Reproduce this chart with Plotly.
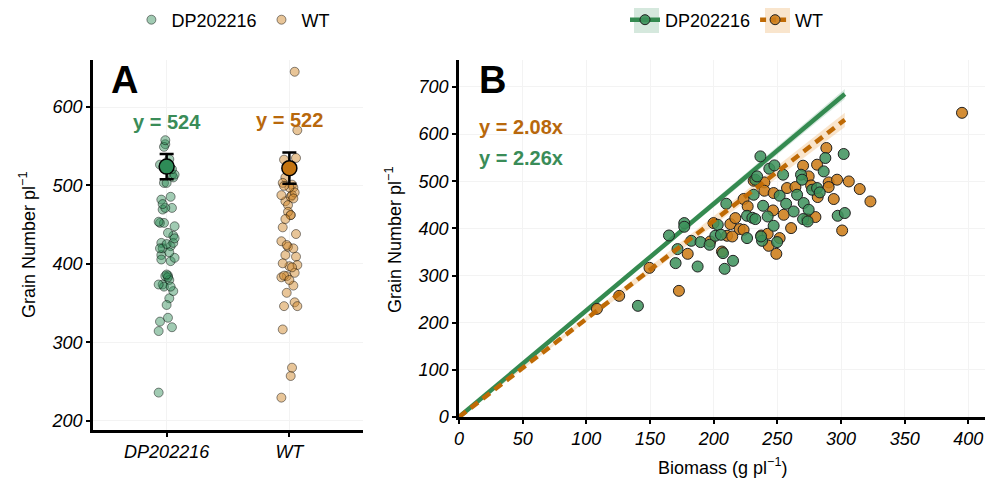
import plotly.graph_objects as go

# ---------------- data ----------------
genotypes = ["DP202216", "WT"]

dp_biomass = [140.5, 164.9, 170.1, 171.6, 176.9, 176.9, 182.4, 187.4, 189.7, 196.8,
              201.3, 203.2, 207.3, 208.6, 215.2, 209.9, 226.2, 226.2, 230.4, 232.7,
              231.4, 232.7, 234.1, 236.7, 238.8, 242.4, 238.0, 237.2, 243.7, 247.7,
              247.1, 249.8, 251.8, 254.5, 256.9, 262.8, 265.5, 268.6, 269.4, 270.7,
              274.6, 270.2, 273.8, 277.3, 281.2, 283.3, 286.4, 287.7, 297.4, 302.1,
              303.0, 205.7]
dp_grain = [235.7, 384.9, 326.3, 356.0, 411.2, 403.4, 373.6, 319.1, 370.9, 365.2,
            384.3, 407.6, 347.5, 314.2, 331.2, 452.2, 379.4, 426.7, 422.5, 419.7,
            471.3, 503.2, 510.2, 552.6, 447.9, 425.2, 373.6, 382.8, 526.5, 533.5,
            405.5, 370.9, 469.2, 513.8, 452.2, 435.8, 471.3, 513.8, 503.2, 453.7,
            439.5, 419.7, 414.6, 481.9, 485.5, 476.2, 520.8, 549.2, 426.7, 557.7,
            432.5, 386.4]

wt_biomass = [108.3, 125.8, 149.6, 172.7, 179.6, 197.3, 199.9, 206.5, 210.5, 213.1,
              217.0, 220.4, 223.5, 214.6, 223.5, 226.7, 231.4, 237.4, 239.8, 239.8,
              242.4, 243.2, 246.6, 247.1, 249.2, 251.8, 255.0, 257.6, 260.8, 264.2,
              270.2, 273.4, 274.6, 276.5, 279.9, 281.2, 281.7, 288.5, 290.3, 290.3,
              294.3, 296.9, 300.9, 306.1, 314.7, 323.1, 395.0]
wt_grain = [229.3, 256.9, 316.3, 267.5, 346.0, 372.2, 411.2, 350.9, 384.3, 409.1,
            421.8, 398.5, 397.0, 382.8, 462.2, 446.5, 501.0, 384.9, 497.4, 479.8,
            388.5, 363.0, 438.0, 474.9, 346.0, 379.4, 428.8, 485.5, 400.6, 487.6,
            532.9, 419.7, 510.2, 491.0, 424.0, 535.0, 466.4, 570.4, 497.4, 487.6,
            462.2, 503.2, 395.5, 499.5, 483.4, 457.1, 645.0]

means = [524, 522]
mean_err = [16, 20]
slopes = [2.26, 2.08]
slope_se = [0.035, 0.05]
fit_xmax = 303

# ---------------- style ----------------
W, H = 985, 473          # page has an 8px body margin
GREEN = "#2E8B57"
ORANGE = "#C47410"
GREEN_TXT = "#3A8C58"
ORANGE_TXT = "#B8680C"
FONT = "Liberation Sans, Arial, sans-serif"

def px(x):  # screen x -> paper
    return (x - 8) / W

def py(y):  # screen y -> paper
    return 1 - (y - 8) / H

fig = go.Figure()

# ---- Panel A: jittered points ----
def jitter(n, w=0.065):
    return [((i * 7) % 13 - 6) / 6 * w for i in range(n)]

for k, (name, ys, col) in enumerate([("DP202216", dp_grain, "rgba(46,139,87,0.45)"),
                                      ("WT", wt_grain, "rgba(210,140,50,0.5)")]):
    xs = [k + 1 + j for j in jitter(len(ys))]
    fig.add_trace(go.Scatter(
        x=xs, y=ys, mode="markers", name=name, xaxis="x", yaxis="y",
        marker=dict(size=9, color=col, line=dict(color="rgba(0,0,0,0.45)", width=1)),
        legend="legend", showlegend=True))

# means with error bars
for k, col in enumerate([GREEN, ORANGE]):
    fig.add_trace(go.Scatter(
        x=[k + 1], y=[means[k]], mode="markers", xaxis="x", yaxis="y",
        marker=dict(size=15, color=col, line=dict(color="black", width=1.5)),
        error_y=dict(type="data", array=[mean_err[k]], color="black", thickness=2.5, width=7),
        showlegend=False))

# ---- Panel B: ribbons, lines, points ----
for k, col_rgba in enumerate(["rgba(46,139,87,0.2)", "rgba(235,170,90,0.3)"]):
    up = slopes[k] + slope_se[k]
    lo = slopes[k] - slope_se[k]
    fig.add_trace(go.Scatter(
        x=[0, fit_xmax, fit_xmax, 0], y=[0, up * fit_xmax, lo * fit_xmax, 0],
        mode="lines", fill="toself", fillcolor=col_rgba, line=dict(width=0),
        xaxis="x2", yaxis="y2", showlegend=False, hoverinfo="skip"))

fig.add_trace(go.Scatter(
    x=[0, fit_xmax], y=[0, slopes[0] * fit_xmax], mode="lines",
    line=dict(color="#348A50", width=4.5), xaxis="x2", yaxis="y2", showlegend=False))

fig.add_trace(go.Scatter(
    x=wt_biomass, y=wt_grain, mode="markers", xaxis="x2", yaxis="y2",
    marker=dict(size=11, color="rgba(205,125,25,0.88)", line=dict(color="#222", width=1)),
    showlegend=False))
fig.add_trace(go.Scatter(
    x=dp_biomass, y=dp_grain, mode="markers", xaxis="x2", yaxis="y2",
    marker=dict(size=11, color="rgba(60,145,90,0.85)", line=dict(color="#222", width=1)),
    showlegend=False))

fig.add_trace(go.Scatter(
    x=[0, fit_xmax], y=[0, slopes[1] * fit_xmax], mode="lines",
    line=dict(color="#BF6A05", width=4.5, dash="9px,6px"), xaxis="x2", yaxis="y2",
    showlegend=False))

# legend entries for panel B
fig.add_trace(go.Scatter(
    x=[None], y=[None], mode="lines+markers", name="DP202216", xaxis="x2", yaxis="y2",
    line=dict(color="#348A50", width=4.5),
    marker=dict(size=10, color="rgba(60,145,90,0.9)", line=dict(color="#222", width=1)),
    legend="legend2"))
fig.add_trace(go.Scatter(
    x=[None], y=[None], mode="lines+markers", name="WT", xaxis="x2", yaxis="y2",
    line=dict(color="#BF6A05", width=4.5, dash="6px,4px"),
    marker=dict(size=10, color="rgba(205,125,25,0.9)", line=dict(color="#222", width=1)),
    legend="legend2"))

axis_common = dict(showline=True, linecolor="black", linewidth=2.5, ticks="outside",
                   ticklen=4, tickwidth=1.5, tickcolor="black", zeroline=False,
                   showgrid=True, gridcolor="#F3F3F3", gridwidth=1, automargin=False,
                   tickfont=dict(family=FONT, size=18, color="black", style="italic"))

def ann(text, x, y, size=18, color="black", **kw):
    d = dict(text=text, x=x, y=y, showarrow=False, xanchor="center", yanchor="middle",
             font=dict(family=FONT, size=size, color=color))
    d.update(kw)
    return d

fig.update_layout(
    width=W, height=H,
    margin=dict(l=0, r=0, t=0, b=0, autoexpand=False),
    paper_bgcolor="white", plot_bgcolor="white",
    font=dict(family=FONT, size=18, color="black"),
    xaxis=dict(domain=[px(93), px(363)], range=[0.4, 2.6], tickvals=[1, 2], ticktext=genotypes,
               anchor="y", **axis_common),
    yaxis=dict(domain=[py(430), py(60)], range=[188, 660], tickvals=[200, 300, 400, 500, 600],
               anchor="x", **axis_common),
    xaxis2=dict(domain=[px(459), px(990)], range=[0, 417], tickvals=list(range(0, 401, 50)),
                anchor="y2", **axis_common),
    yaxis2=dict(domain=[py(417), py(60)], range=[0, 757], tickvals=list(range(0, 701, 100)),
                anchor="x2", **axis_common),
    legend=dict(orientation="h", x=px(233.4), xanchor="center", y=py(20), yanchor="middle",
                font=dict(family=FONT, size=18), bgcolor="rgba(0,0,0,0)", itemwidth=30),
    legend2=dict(orientation="h", x=px(727), xanchor="center", y=py(20), yanchor="middle",
                 font=dict(family=FONT, size=18), bgcolor="rgba(0,0,0,0)", itemwidth=30),
    annotations=[
        ann("<b>A</b>", 0.66, 634, size=38, xref="x", yref="y"),
        ann("<b>B</b>", 26, 715, size=38, xref="x2", yref="y2"),
        ann("<b>y = 524</b>", 1, 581, size=20, color=GREEN_TXT, xref="x", yref="y"),
        ann("<b>y = 522</b>", 2, 583, size=20, color=ORANGE_TXT, xref="x", yref="y"),
        ann("<b>y = 2.08x</b>", 14, 616, size=20, color=ORANGE_TXT, xref="x2", yref="y2",
            xanchor="left"),
        ann("<b>y = 2.26x</b>", 14, 550, size=20, color=GREEN_TXT, xref="x2", yref="y2",
            xanchor="left"),
        ann("Grain Number pl<sup>−1</sup>", px(27), py(245), xref="paper", yref="paper",
            textangle=-90),
        ann("Grain Number pl<sup>−1</sup>", px(393), py(240), xref="paper", yref="paper",
            textangle=-90),
        ann("Biomass (g pl<sup>−1</sup>)", px(722), py(466), xref="paper", yref="paper"),
    ],
    shapes=[
        dict(type="rect", xref="paper", yref="paper", x0=px(634), x1=px(659),
             y0=py(33), y1=py(8), fillcolor="rgba(46,139,87,0.2)", line=dict(width=0),
             layer="below"),
        dict(type="rect", xref="paper", yref="paper", x0=px(765), x1=px(790),
             y0=py(33), y1=py(8), fillcolor="rgba(235,170,90,0.3)", line=dict(width=0),
             layer="below"),
    ],
)

fig.write_html("out.html")
